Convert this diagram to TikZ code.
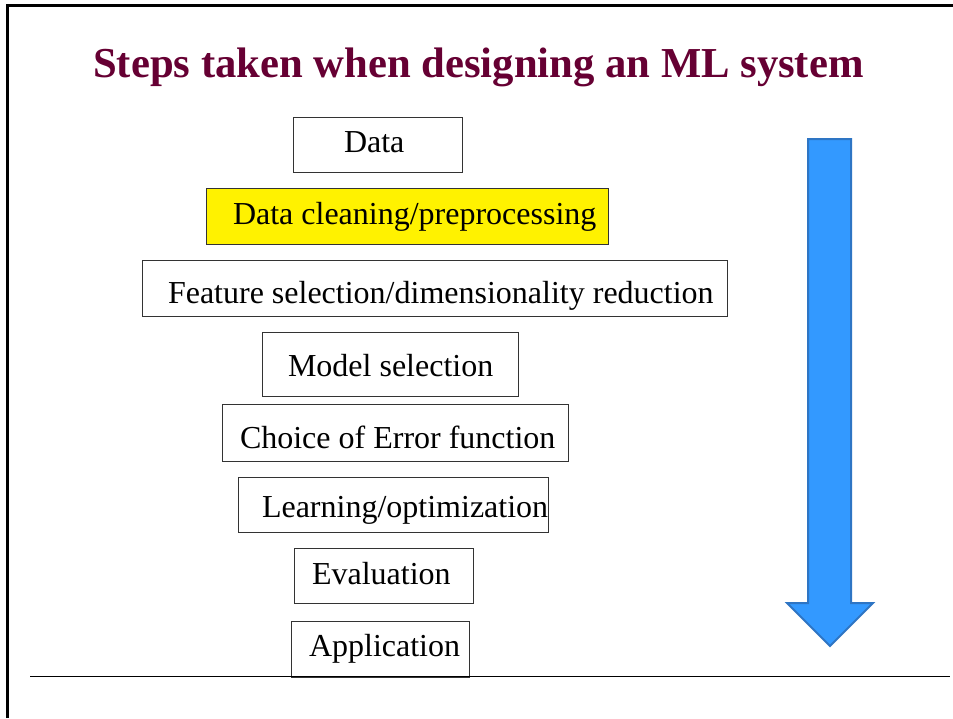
\documentclass[tikz,border=0pt]{standalone}
\usepackage{fontspec}
\setmainfont{Liberation Serif}
\definecolor{titlecol}{HTML}{660033}
\definecolor{arrowfill}{HTML}{3399FF}
\definecolor{arrowline}{HTML}{2E75C4}
\definecolor{boxline}{HTML}{333333}
\tikzset{
  stepbox/.style={draw=boxline, line width=1pt, inner sep=0pt, outer sep=0pt, anchor=north west},
  steptext/.style={anchor=base west, inner sep=0pt, outer sep=0pt, font=\fontsize{32}{38}\selectfont},
}
\begin{document}
\begin{tikzpicture}[x=1pt,y=-1pt]
\useasboundingbox (0,0) rectangle (953,718);
\fill[white] (0,0) rectangle (953,718);
% frame
\draw[line width=3pt] (7.5,718) -- (7.5,5.5) -- (953,5.5);
% title
\node[anchor=base west, inner sep=0pt, text=titlecol, font=\fontsize{42.67}{50}\selectfont\bfseries] (title) at (93,77) {Steps taken when designing an ML system};
% boxes
\node[stepbox, minimum width=169pt, minimum height=55pt] (data) at (293,117) {};
\node[steptext] (datat) at (344,152) {Data};
\node[stepbox, fill=yellow, minimum width=402pt, minimum height=56pt] (clean) at (206,188) {};
\node[steptext] (cleant) at (233,224) {Data cleaning/preprocessing};
\node[stepbox, minimum width=585pt, minimum height=56pt] (feat) at (142,260) {};
\node[steptext] (featt) at (168,303) {Feature selection/dimensionality reduction};
\node[stepbox, minimum width=256pt, minimum height=64pt] (model) at (262,332) {};
\node[steptext] (modelt) at (288,376) {Model selection};
\node[stepbox, minimum width=346pt, minimum height=57pt] (err) at (222,404) {};
\node[steptext] (errt) at (240,448) {Choice of Error function};
\node[stepbox, minimum width=310pt, minimum height=55pt] (learn) at (238,477) {};
\node[steptext] (learnt) at (262,517) {Learning/optimization};
\node[stepbox, minimum width=179pt, minimum height=55pt] (eval) at (294,548) {};
\node[steptext] (evalt) at (312,584) {Evaluation};
\node[stepbox, minimum width=178pt, minimum height=56pt] (app) at (291,621) {};
\node[steptext] (appt) at (309,656) {Application};
% bottom rule
\coordinate (ruleL) at (30,676.5);
\coordinate (ruleR) at (950,676.5);
\draw[line width=1.2pt] (ruleL) -- (ruleR);
% big arrow
\draw[fill=arrowfill, draw=arrowline, line width=2pt, line join=miter]
  (808,139) -- (851,139) -- (851,603) -- (873,603) -- (830,646) -- (787,603) -- (808,603) -- cycle;
\end{tikzpicture}
\end{document}
